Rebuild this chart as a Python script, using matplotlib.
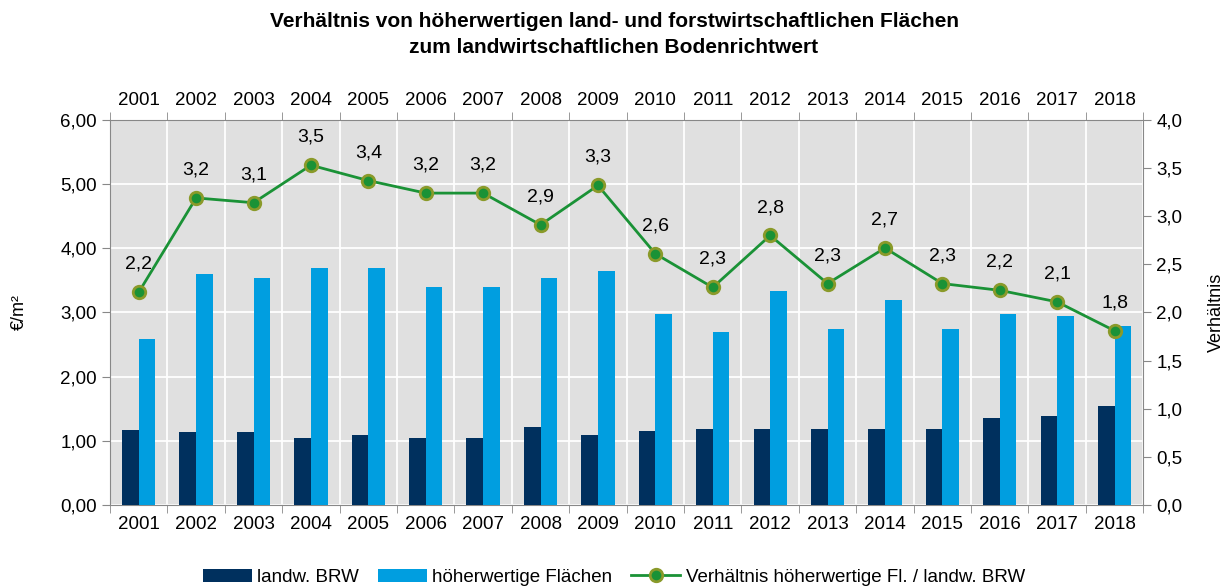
import matplotlib.pyplot as plt
import numpy as np

plt.rcParams['font.family'] = ['Liberation Sans', 'DejaVu Sans']

years = ['2001', '2002', '2003', '2004', '2005', '2006', '2007', '2008', '2009',
         '2010', '2011', '2012', '2013', '2014', '2015', '2016', '2017', '2018']
brw = [1.17, 1.13, 1.13, 1.05, 1.09, 1.05, 1.05, 1.21, 1.09,
       1.15, 1.19, 1.19, 1.19, 1.19, 1.19, 1.35, 1.39, 1.55]
hoeher = [2.58, 3.60, 3.54, 3.70, 3.70, 3.40, 3.40, 3.54, 3.64,
          2.98, 2.69, 3.34, 2.75, 3.20, 2.75, 2.98, 2.94, 2.79]
verh = [2.21, 3.19, 3.14, 3.53, 3.37, 3.24, 3.24, 2.91, 3.32,
        2.61, 2.26, 2.80, 2.30, 2.67, 2.30, 2.23, 2.11, 1.81]

c_dark = '#00305e'
c_light = '#009ee0'
c_green = '#1a9236'
c_edge = '#8a9a2a'

fig = plt.figure(figsize=(12.28, 5.88), dpi=100)
ax = fig.add_axes([0.0896, 0.1412, 0.8414, 0.6548])
ax.set_facecolor('#e0e0e0')

x = np.arange(len(years))
w = 0.29
ax.bar(x - w/2, brw, w, color=c_dark, label='landw. BRW', zorder=3)
ax.bar(x + w/2, hoeher, w, color=c_light, label='höherwertige Flächen', zorder=3)

ax.set_xlim(-0.5, len(years) - 0.5)
ax.set_ylim(0, 6)
ax.set_yticks(np.arange(0, 6.01, 1))
ax.set_yticklabels([('%.2f' % v).replace('.', ',') for v in np.arange(0, 6.01, 1)])
ax.set_xticks(x)
ax.set_xticklabels(years)
ax.set_xticks(np.arange(-0.5, len(years), 1), minor=True)
ax.tick_params(axis='x', which='major', length=0, labelsize=13.5, pad=8,
               top=True, labeltop=True)
ax.tick_params(axis='x', which='minor', length=6, color='#888888', top=True, direction='out')
ax.tick_params(axis='y', labelsize=13.5, length=6, color='#888888')
ax.grid(True, axis='y', which='major', color='white', lw=1.3, zorder=1)
ax.grid(True, axis='x', which='minor', color='white', lw=1.3, zorder=1)
for s in ['top', 'bottom', 'left']:
    ax.spines[s].set_color('#888888')
ax.spines['right'].set_visible(False)
ax.set_ylabel('€/m²', fontsize=13, labelpad=23)

ax2 = ax.twinx()
ax2.plot(x, verh, color=c_green, lw=2, marker='o', ms=9, mfc=c_green, mec=c_edge,
         mew=2, label='Verhältnis höherwertige Fl. / landw. BRW', zorder=4)
for xi, v in zip(x, verh):
    ax2.annotate(('%.1f' % v).replace('.', ','), (xi, v), xytext=(0, 14),
                 textcoords='offset points', ha='center', va='bottom', fontsize=14)
ax2.set_ylim(0, 4)
ax2.set_yticks(np.arange(0, 4.01, 0.5))
ax2.set_yticklabels([('%.1f' % v).replace('.', ',') for v in np.arange(0, 4.01, 0.5)])
ax2.tick_params(axis='y', labelsize=13.5, length=6, color='#888888')
ax2.set_ylabel('Verhältnis', fontsize=13, labelpad=18)
for s in ['top', 'bottom', 'left']:
    ax2.spines[s].set_visible(False)
ax2.spines['right'].set_color('#888888')

fig.suptitle('Verhältnis von höherwertigen land- und forstwirtschaftlichen Flächen\n'
             'zum landwirtschaftlichen Bodenrichtwert',
             y=0.98, fontsize=15, fontweight='bold', linespacing=1.45)

h1, l1 = ax.get_legend_handles_labels()
h2, l2 = ax2.get_legend_handles_labels()
fig.legend(h1 + h2, l1 + l2, loc='lower center', bbox_to_anchor=(0.5, -0.025), ncol=3,
           frameon=False, fontsize=13.5, handlelength=2.6, handletextpad=0.3,
           columnspacing=1.0)

fig.savefig('out.png', dpi=100)
